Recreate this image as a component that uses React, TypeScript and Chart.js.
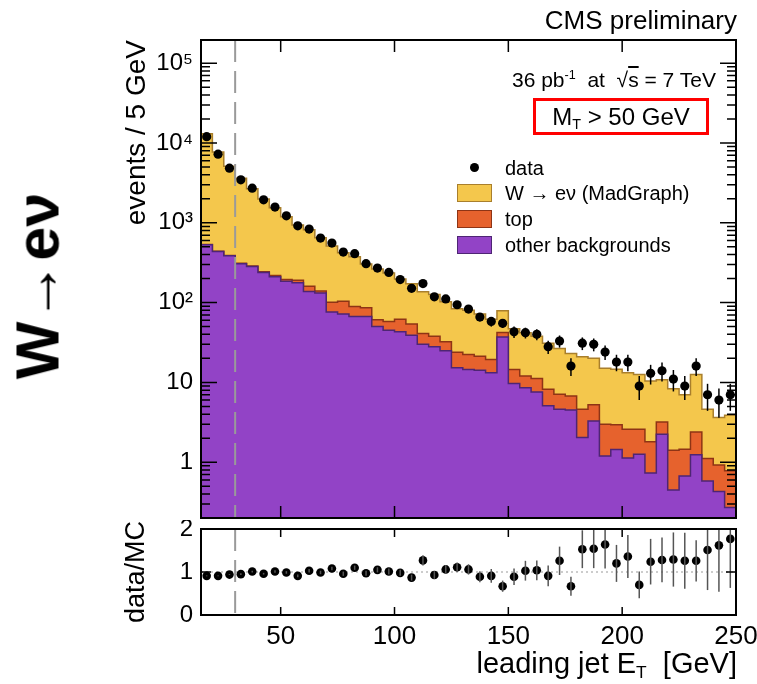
import React, { useEffect, useRef } from "react";
import { Chart, registerables } from "chart.js";

Chart.register(...registerables);

const FONT = "'Liberation Sans', Arial, Helvetica, sans-serif";

// ---- bins (lower edges, GeV) ----
const binLow = [15, 20, 25, 30, 35, 40, 45, 50, 55, 60, 65, 70, 75, 80, 85, 90, 95, 100, 105, 110, 115, 120, 125, 130, 135, 140, 145, 150, 155, 160, 165, 170, 175, 180, 185, 190, 195, 200, 205, 210, 215, 220, 225, 230, 235, 240, 245];
const X_MIN = 15;
const X_MAX = 250;
const BIN_WIDTH = 5;
const JET_CUT = 30;

// ---- main panel series (events / 5 GeV) ----
const dataCounts = [12000, 7230, 4830, 3450, 2716, 1939, 1571, 1223, 917, 834, 644, 557, 430, 410, 307, 271, 239, 194, 151, 173, 118, 111, 94, 83, 66, 58, 55, 43, 42, 40, 28, 33, 16, 31, 30, 24, 18, 18, 9, 13, 14, 11, 9, 16, 7, 6, 7];
const dataErr = [110, 85, 70, 59, 52, 44, 40, 35, 30, 29, 25, 24, 21, 20, 18, 16, 15, 14, 12, 13, 11, 11, 10, 9, 8, 8, 7, 7, 6.5, 6.3, 5.3, 5.7, 4, 5.6, 5.5, 4.9, 4.2, 4.2, 3, 3.6, 3.7, 3.3, 3, 4, 2.6, 2.4, 2.6];
const wenu = [12470, 7260, 4710, 3310, 2372, 1736, 1321, 996, 749, 655, 510, 409, 316, 286, 218, 203, 176, 136, 118, 96, 88, 70, 60, 57.6, 50.7, 42.6, 36.5, 32.5, 30, 26.8, 22.8, 19.4, 16.3, 16.4, 14.8, 12, 11.7, 10.6, 10, 8.6, 7.6, 6.9, 5.55, 10.2, 3.5, 2.7, 3.1];
const topBkg = [2, 2, 3, 3, 4, 5, 9, 9, 14, 22, 8, 25, 32, 22.5, 19, 11, 13, 19, 15, 11, 10, 7.4, 8.6, 7.9, 7.1, 6.2, 5.3, 4.8, 3.4, 3.6, 3.1, 2.5, 2.24, 2.56, 1.95, 1.79, 1.5, 1.45, 1.32, 1.08, 0.95, 0.96, 0.78, 1.15, 0.53, 0.49, 0.51];
const otherBkg = [531, 438, 387, 307, 284, 239, 210, 185, 177, 138, 132, 76, 72, 67, 67, 50, 45, 43, 39, 30, 28, 25, 15.3, 14.5, 14.2, 13.2, 37, 9.7, 8.6, 7.6, 5.1, 4.6, 4.5, 2.04, 3.28, 1.2, 1.44, 1.13, 1.26, 0.73, 2.24, 0.45, 0.67, 1.24, 0.58, 0.43, 0.27];

// ---- ratio panel (data / MC) ----
const ratio = [0.91, 0.91, 0.94, 0.95, 1.01, 0.96, 1.01, 0.99, 0.91, 1.03, 0.99, 1.08, 0.96, 1.10, 0.97, 1.05, 1.01, 0.98, 0.87, 1.27, 0.93, 1.06, 1.11, 1.06, 0.89, 0.91, 0.67, 0.89, 1.03, 1.04, 0.91, 1.26, 0.67, 1.53, 1.54, 1.64, 1.20, 1.36, 0.70, 1.24, 1.28, 1.29, 1.26, 1.26, 1.51, 1.62, 1.77];
const ratioErr = [0.01, 0.01, 0.01, 0.02, 0.02, 0.02, 0.03, 0.03, 0.03, 0.04, 0.04, 0.04, 0.05, 0.05, 0.06, 0.06, 0.07, 0.07, 0.07, 0.12, 0.09, 0.1, 0.11, 0.12, 0.13, 0.16, 0.13, 0.19, 0.23, 0.23, 0.24, 0.33, 0.22, 0.44, 0.45, 0.56, 0.43, 0.5, 0.31, 0.53, 0.52, 0.63, 0.65, 0.48, 0.93, 1.08, 1.14];

// ---- ticks ----
const xTickValues = [50, 100, 150, 200, 250];
const yMainTickValues = [1, 10, 100, 1000, 10000, 100000];
const yMainTickLabels = ["1", "10", "10²", "10³", "10⁴", "10⁵"];
const yRatioTickValues = [0, 1, 2];
const Y_MAIN_MIN = 0.2;
const Y_MAIN_MAX = 1.95e5;

const COL = {
  wenu: "#F4C74C",
  wenuEdge: "#A97F2C",
  top: "#E6622D",
  topEdge: "#8E3415",
  other: "#9243C6",
  otherEdge: "#4E2574",
  cut: "#9a9a9a",
};

function stepPoints(values: number[]) {
  const pts = binLow.map((x, i) => ({ x, y: values[i] }));
  pts.push({ x: X_MAX, y: values[values.length - 1] });
  return pts;
}

const cumOther = otherBkg.slice();
const cumTop = otherBkg.map((v, i) => v + topBkg[i]);
const cumAll = cumTop.map((v, i) => v + wenu[i]);

function clipArea(ctx: CanvasRenderingContext2D, a: any) {
  ctx.beginPath();
  ctx.rect(a.left, a.top, a.right - a.left, a.bottom - a.top);
  ctx.clip();
}

function drawCut(ctx: CanvasRenderingContext2D, xs: any, a: any) {
  const px = xs.getPixelForValue(JET_CUT);
  ctx.save();
  ctx.strokeStyle = COL.cut;
  ctx.lineWidth = 2;
  ctx.setLineDash([22, 9]);
  ctx.beginPath();
  ctx.moveTo(px, a.top);
  ctx.lineTo(px, a.bottom);
  ctx.stroke();
  ctx.restore();
}

function drawFrame(ctx: CanvasRenderingContext2D, a: any) {
  ctx.save();
  ctx.strokeStyle = "#000";
  ctx.lineWidth = 2;
  ctx.strokeRect(a.left, a.top, a.right - a.left, a.bottom - a.top);
  ctx.restore();
}

function xTicks(ctx: CanvasRenderingContext2D, xs: any, a: any, len: number) {
  ctx.save();
  ctx.strokeStyle = "#000";
  ctx.lineWidth = 1.5;
  xTickValues.forEach((v) => {
    if (v <= X_MIN || v >= X_MAX) return;
    const px = xs.getPixelForValue(v);
    ctx.beginPath();
    ctx.moveTo(px, a.bottom);
    ctx.lineTo(px, a.bottom - len);
    ctx.moveTo(px, a.top);
    ctx.lineTo(px, a.top + len);
    ctx.stroke();
  });
  ctx.restore();
}

const mainDecor = {
  id: "mainDecor",
  afterDatasetsDraw(chart: any) {
    const { ctx, chartArea: a } = chart;
    const xs = chart.scales.x;
    const ys = chart.scales.y;
    ctx.save();
    clipArea(ctx, a);
    ctx.strokeStyle = "#000";
    ctx.lineWidth = 1.5;
    binLow.forEach((lo, i) => {
      const px = xs.getPixelForValue(lo + BIN_WIDTH / 2);
      const v = dataCounts[i];
      const e = dataErr[i];
      const yTop = ys.getPixelForValue(v + e);
      const yBot = ys.getPixelForValue(Math.max(v - e, Y_MAIN_MIN * 0.5));
      ctx.beginPath();
      ctx.moveTo(px, yBot);
      ctx.lineTo(px, yTop);
      ctx.stroke();
    });
    drawCut(ctx, xs, a);
    ctx.restore();
    drawFrame(ctx, a);
    // log ticks on both sides
    ctx.save();
    ctx.strokeStyle = "#000";
    ctx.lineWidth = 1.5;
    for (let e = -1; e <= 5; e++) {
      for (let m = 1; m <= 9; m++) {
        const v = m * Math.pow(10, e);
        if (v < Y_MAIN_MIN || v > Y_MAIN_MAX) continue;
        const py = ys.getPixelForValue(v);
        const len = m === 1 ? 16 : 9;
        ctx.beginPath();
        ctx.moveTo(a.left, py);
        ctx.lineTo(a.left + len, py);
        ctx.moveTo(a.right, py);
        ctx.lineTo(a.right - len, py);
        ctx.stroke();
      }
    }
    ctx.restore();
    xTicks(ctx, xs, a, 12);
  },
};

const ratioDecor = {
  id: "ratioDecor",
  beforeDatasetsDraw(chart: any) {
    const { ctx, chartArea: a } = chart;
    const ys = chart.scales.y;
    const py = ys.getPixelForValue(1);
    ctx.save();
    ctx.strokeStyle = "#999";
    ctx.lineWidth = 1.2;
    ctx.setLineDash([2, 3]);
    ctx.beginPath();
    ctx.moveTo(a.left, py);
    ctx.lineTo(a.right, py);
    ctx.stroke();
    ctx.restore();
  },
  afterDatasetsDraw(chart: any) {
    const { ctx, chartArea: a } = chart;
    const xs = chart.scales.x;
    const ys = chart.scales.y;
    ctx.save();
    clipArea(ctx, a);
    ctx.strokeStyle = "#555";
    ctx.lineWidth = 1.5;
    binLow.forEach((lo, i) => {
      const px = xs.getPixelForValue(lo + BIN_WIDTH / 2);
      const yTop = ys.getPixelForValue(ratio[i] + ratioErr[i]);
      const yBot = ys.getPixelForValue(ratio[i] - ratioErr[i]);
      ctx.beginPath();
      ctx.moveTo(px, yBot);
      ctx.lineTo(px, yTop);
      ctx.stroke();
    });
    drawCut(ctx, xs, a);
    ctx.restore();
    drawFrame(ctx, a);
    ctx.save();
    ctx.strokeStyle = "#000";
    ctx.lineWidth = 1.5;
    const py = ys.getPixelForValue(1);
    ctx.beginPath();
    ctx.moveTo(a.left, py);
    ctx.lineTo(a.left + 10, py);
    ctx.moveTo(a.right, py);
    ctx.lineTo(a.right - 10, py);
    ctx.stroke();
    ctx.restore();
    xTicks(ctx, xs, a, 8);
  },
};

function zeroPad(s: any) {
  s.paddingTop = 0;
  s.paddingBottom = 0;
  s.paddingLeft = 0;
  s.paddingRight = 0;
}

export default function App() {
  const mainRef = useRef<HTMLCanvasElement | null>(null);
  const ratioRef = useRef<HTMLCanvasElement | null>(null);

  useEffect(() => {
    if (!mainRef.current || !ratioRef.current) return;

    const histDataset = (label: string, values: number[], fillColor: string, edge: string, order: number) => ({
      type: "line" as const,
      label,
      data: stepPoints(values),
      stepped: true,
      fill: "start",
      backgroundColor: fillColor,
      borderColor: edge,
      borderWidth: 1.5,
      pointRadius: 0,
      order,
    });

    const main = new Chart(mainRef.current, {
      type: "line",
      data: {
        datasets: [
          {
            type: "scatter",
            label: "data",
            data: binLow.map((x, i) => ({ x: x + BIN_WIDTH / 2, y: dataCounts[i] })),
            pointRadius: 4.6,
            pointBackgroundColor: "#000",
            pointBorderColor: "#000",
            pointBorderWidth: 0,
            showLine: false,
            order: 0,
          } as any,
          histDataset("other backgrounds", cumOther, COL.other, COL.otherEdge, 1),
          histDataset("top", cumTop, COL.top, COL.topEdge, 2),
          histDataset("W → eν (MadGraph)", cumAll, COL.wenu, COL.wenuEdge, 3),
        ],
      },
      options: {
        animation: false,
        responsive: false,
        maintainAspectRatio: false,
        events: [],
        layout: { padding: { left: 120, top: 40, right: 21, bottom: 12 } },
        plugins: { legend: { display: false }, tooltip: { enabled: false } },
        scales: {
          x: { type: "linear", min: X_MIN, max: X_MAX, display: false },
          y: {
            type: "logarithmic",
            min: Y_MAIN_MIN,
            max: Y_MAIN_MAX,
            grid: { display: false, drawTicks: false },
            border: { display: false },
            afterBuildTicks: (s: any) => {
              s.ticks = yMainTickValues.map((v) => ({ value: v }));
            },
            afterFit: (s: any) => {
              s.width = 81;
              zeroPad(s);
            },
            ticks: {
              autoSkip: false,
              padding: 8,
              color: "#000",
              font: { family: FONT, size: 24 },
              callback: (v: any) => {
                const idx = yMainTickValues.indexOf(Number(v));
                return idx >= 0 ? yMainTickLabels[idx] : "";
              },
            },
            title: {
              display: true,
              text: "events / 5 GeV",
              align: "end",
              color: "#000",
              font: { family: FONT, size: 28 },
              padding: { top: 0, bottom: 0 },
            },
          },
        },
      } as any,
      plugins: [mainDecor],
    });

    const ratioChart = new Chart(ratioRef.current, {
      type: "scatter",
      data: {
        datasets: [
          {
            label: "data/MC",
            data: binLow.map((x, i) => ({ x: x + BIN_WIDTH / 2, y: ratio[i] })),
            pointRadius: 4.3,
            pointBackgroundColor: "#000",
            pointBorderColor: "#000",
            pointBorderWidth: 0,
          },
        ],
      },
      options: {
        animation: false,
        responsive: false,
        maintainAspectRatio: false,
        events: [],
        layout: { padding: { left: 120, top: 9, right: 21, bottom: 0 } },
        plugins: { legend: { display: false }, tooltip: { enabled: false } },
        scales: {
          x: {
            type: "linear",
            min: X_MIN,
            max: X_MAX,
            grid: { display: false, drawTicks: false },
            border: { display: false },
            afterBuildTicks: (s: any) => {
              s.ticks = xTickValues.map((v) => ({ value: v }));
            },
            afterFit: (s: any) => {
              s.height = 69;
              zeroPad(s);
            },
            ticks: {
              autoSkip: false,
              maxRotation: 0,
              padding: 6,
              color: "#000",
              font: { family: FONT, size: 26 },
            },
          },
          y: {
            type: "linear",
            min: 0,
            max: 2,
            grid: { display: false, drawTicks: false },
            border: { display: false },
            afterBuildTicks: (s: any) => {
              s.ticks = yRatioTickValues.map((v) => ({ value: v }));
            },
            afterFit: (s: any) => {
              s.width = 81;
              zeroPad(s);
            },
            ticks: {
              autoSkip: false,
              padding: 8,
              color: "#000",
              font: { family: FONT, size: 24 },
            },
            title: {
              display: true,
              text: "data/MC",
              align: "center",
              color: "#000",
              font: { family: FONT, size: 27 },
              padding: { top: 0, bottom: 0 },
            },
          },
        },
      } as any,
      plugins: [ratioDecor],
    });

    return () => {
      main.destroy();
      ratioChart.destroy();
    };
  }, []);

  const abs = (o: React.CSSProperties): React.CSSProperties => ({ position: "absolute", whiteSpace: "nowrap", fontFamily: FONT, color: "#000", ...o });

  const legendRows = [
    { label: "W → eν (MadGraph)", fill: COL.wenu, edge: COL.wenuEdge, y: 193 },
    { label: "top", fill: COL.top, edge: COL.topEdge, y: 219 },
    { label: "other backgrounds", fill: COL.other, edge: COL.otherEdge, y: 245 },
  ];

  return (
    <div style={{ position: "absolute", left: 0, top: 0, width: 757, height: 684, background: "#fff", overflow: "hidden" }}>
      <canvas ref={mainRef} width={757} height={530} style={{ position: "absolute", left: 0, top: 0 }} />
      <canvas ref={ratioRef} width={757} height={164} style={{ position: "absolute", left: 0, top: 520 }} />

      <div style={abs({ right: 20, top: 7, fontSize: 26, lineHeight: "27px" })}>CMS preliminary</div>
      <div style={abs({ left: 512, top: 69, fontSize: 21, lineHeight: "22px" })}>
        36 pb<sup style={{ fontSize: "0.6em", verticalAlign: "0.6em", lineHeight: 0 }}>-1</sup>&nbsp; at&nbsp;
        √<span style={{ textDecoration: "overline" }}>s</span> = 7 TeV
      </div>
      <div
        style={abs({
          left: 533,
          top: 98,
          width: 176,
          height: 37,
          border: "3px solid #ff0000",
          boxSizing: "border-box",
          display: "flex",
          alignItems: "center",
          justifyContent: "center",
          fontSize: 24,
          background: "#fff",
        })}
      >
        <span>
          M<span style={{ fontSize: "0.6em", position: "relative", top: "0.3em" }}>T</span> &gt; 50 GeV
        </span>
      </div>

      {/* legend */}
      <div style={{ position: "absolute", left: 469.5, top: 163, width: 9, height: 9, borderRadius: "50%", background: "#000" }} />
      <div style={abs({ left: 505, top: 156, fontSize: 20, lineHeight: "24px" })}>data</div>
      {legendRows.map((r) => (
        <React.Fragment key={r.label}>
          <div
            style={{
              position: "absolute",
              left: 457,
              top: r.y - 9,
              width: 35,
              height: 18,
              background: r.fill,
              border: `1.5px solid ${r.edge}`,
              boxSizing: "border-box",
            }}
          />
          <div style={abs({ left: 505, top: r.y - 12, fontSize: 20, lineHeight: "24px" })}>{r.label}</div>
        </React.Fragment>
      ))}

      {/* x axis title */}
      <div style={abs({ right: 20, top: 649, fontSize: 29, lineHeight: "29px" })}>
        leading jet E<span style={{ fontSize: "0.6em", position: "relative", top: "0.3em" }}>T</span>&nbsp;&nbsp;[GeV]
      </div>

      {/* channel label */}
      <div
        style={abs({
          left: 38,
          top: 286,
          fontSize: 61,
          fontWeight: 700,
          lineHeight: "61px",
          transform: "translate(-50%, -50%) rotate(-90deg)",
        })}
      >
        W<span style={{ fontWeight: 400 }}>→</span>eν
      </div>
    </div>
  );
}
